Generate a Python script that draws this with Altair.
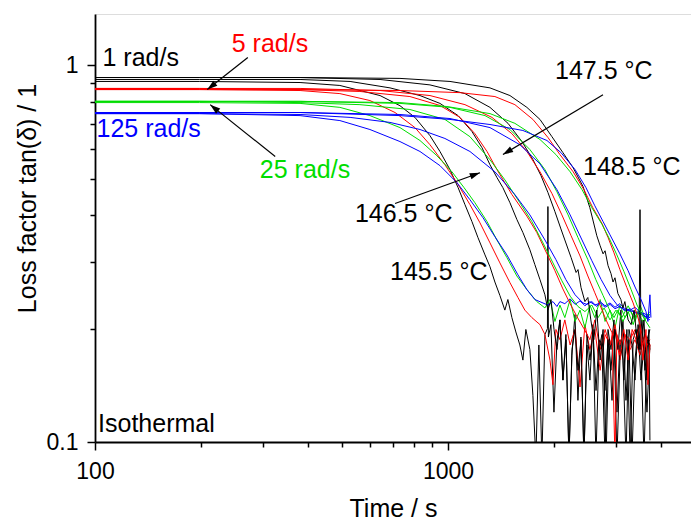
import altair as alt
import pandas as pd

# ---------------- data (time in s, loss factor tan(delta)) ----------------
x_ticks = [100, 200, 300, 400, 500, 600, 700, 800, 900, 1000, 2000, 3000, 4000]
y_ticks = [0.1, 0.2, 0.3, 0.4, 0.5, 0.6, 0.7, 0.8, 0.9, 1.0]

# 145.5 °C
t_1455_1 = [100,198,381,494,642,731,806,889,949,1013,1068,1117,1169,1216,1273,1315,1358,1403,1449,1478,1517,1557,1598,1630,1662,1706,1740,1774,1809,1845,1882,1913,1919,1925,1957,1996,2035,2075,2116,2158,2201,2244,2289,2334,2380,2427,2475,2524,2574,2625,2677,2730,2784,2839,2895,2952,3010,3070,3131,3193,3256,3320,3386,3453,3521,3591,3662,3733]
v_1455_1 = [0.907,0.907,0.901,0.885,0.832,0.782,0.728,0.651,0.591,0.529,0.474,0.427,0.385,0.349,0.314,0.292,0.266,0.245,0.224,0.239,0.214,0.196,0.181,0.165,0.199,0.176,0.133,0.09,0.181,0.09,0.193,0.20,0.422,0.19,0.205,0.12,0.185,0.211,0.146,0.193,0.09,0.17,0.218,0.129,0.19,0.09,0.181,0.146,0.205,0.09,0.176,0.193,0.137,0.187,0.155,0.199,0.09,0.165,0.211,0.129,0.187,0.09,0.165,0.199,0.146,0.181,0.12,0.181]
t_1455_5 = [100,198,381,494,601,708,806,889,980,1068,1154,1232,1315,1403,1498,1578,1651,1728,1822,1882,1945,1983,2022,2075,2143,2218,2291,2366,2443,2523,2606,2698,2786,2877,2972,3069,3170,3281,3388,3499,3614,3733]
v_1455_5 = [0.863,0.863,0.858,0.842,0.807,0.750,0.684,0.616,0.545,0.483,0.427,0.382,0.338,0.299,0.265,0.242,0.224,0.214,0.205,0.193,0.165,0.142,0.199,0.187,0.211,0.181,0.199,0.14,0.205,0.176,0.199,0.155,0.193,0.181,0.199,0.165,0.193,0.176,0.187,0.170,0.193,0.181]
t_1455_25 = [100,198,381,494,601,731,833,930,1026,1110,1192,1290,1376,1468,1567,1673,1785,1882,1945,2009,2075,2143,2218,2291,2366,2443,2523,2606,2698,2786,2877,2972,3069,3170,3281,3388,3499,3614,3733]
v_1455_25 = [0.797,0.797,0.793,0.774,0.736,0.684,0.632,0.576,0.522,0.474,0.432,0.385,0.344,0.309,0.276,0.254,0.236,0.227,0.239,0.209,0.231,0.214,0.239,0.209,0.224,0.201,0.231,0.214,0.239,0.209,0.224,0.201,0.231,0.214,0.224,0.209,0.231,0.214,0.222]
t_1455_125 = [100,198,381,494,601,731,833,949,1061,1154,1257,1358,1468,1578,1673,1762,1919,1983,2035,2075,2143,2218,2291,2366,2443,2523,2606,2698,2786,2877,2972,3069,3170,3281,3388,3499,3614,3733]
v_1455_125 = [0.745,0.745,0.736,0.714,0.676,0.628,0.591,0.542,0.488,0.440,0.394,0.351,0.314,0.278,0.254,0.239,0.231,0.236,0.229,0.236,0.233,0.240,0.232,0.237,0.230,0.236,0.231,0.234,0.228,0.232,0.226,0.229,0.223,0.226,0.220,0.222,0.216,0.214]

# 146.5 °C
t_1465_1 = [100,198,381,528,685,833,949,1068,1169,1248,1315,1376,1430,1498,1567,1630,1706,1762,1822,1882,1919,1958,1997,2036,2076,2117,2159,2202,2245,2290,2335,2381,2428,2476,2525,2575,2626,2678,2731,2785,2840,2896,2953,3011,3071,3132,3194,3257,3321,3387,3454,3522,3592,3663,3733]
v_1465_1 = [0.918,0.918,0.918,0.907,0.872,0.832,0.793,0.736,0.668,0.605,0.545,0.504,0.474,0.432,0.390,0.360,0.324,0.296,0.270,0.246,0.224,0.239,0.199,0.176,0.211,0.146,0.187,0.09,0.176,0.199,0.155,0.187,0.09,0.193,0.165,0.199,0.137,0.187,0.176,0.09,0.199,0.176,0.211,0.12,0.187,0.165,0.09,0.199,0.181,0.146,0.205,0.176,0.09,0.187,0.199]
t_1465_5 = [100,198,381,563,780,949,1081,1192,1290,1376,1518,1673,1785,1907,2009,2116,2218,2321,2427,2523,2606,2698,2786,2877,2972,3069,3170,3281,3388,3499,3614,3733]
v_1465_5 = [0.869,0.869,0.863,0.853,0.827,0.783,0.728,0.659,0.591,0.529,0.454,0.398,0.360,0.316,0.285,0.255,0.233,0.215,0.200,0.187,0.211,0.176,0.199,0.181,0.205,0.170,0.193,0.187,0.199,0.176,0.193,0.181]
t_1465_25 = [100,198,381,563,780,980,1154,1315,1449,1598,1728,1858,1983,2102,2218,2335,2443,2556,2663,2768,2877,2991,3109,3238,3367,3499,3614,3733]
v_1465_25 = [0.803,0.803,0.797,0.787,0.764,0.719,0.647,0.562,0.497,0.432,0.385,0.338,0.299,0.268,0.244,0.229,0.222,0.231,0.214,0.227,0.211,0.224,0.214,0.230,0.214,0.224,0.211,0.219]
t_1465_125 = [100,198,381,528,685,833,980,1154,1358,1547,1706,1882,2022,2157,2291,2413,2475,2556,2640,2698,2786,2877,2972,3069,3170,3281,3388,3499,3614,3733]
v_1465_125 = [0.745,0.745,0.741,0.728,0.706,0.676,0.640,0.591,0.522,0.454,0.401,0.344,0.305,0.270,0.246,0.234,0.232,0.236,0.229,0.236,0.230,0.234,0.228,0.233,0.226,0.224,0.228,0.221,0.219,0.214]

# 147.5 °C
t_1475_1 = [100,198,381,642,889,1117,1315,1479,1620,1741,1834,1919,2009,2089,2143,2232,2306,2335,2382,2443,2490,2539,2589,2640,2698,2750,2804,2858,2915,2972,3029,3089,3149,3212,3281,3346,3410,3476,3545,3614,3685,3733]
v_1475_1 = [0.929,0.929,0.929,0.918,0.888,0.842,0.774,0.702,0.628,0.562,0.510,0.460,0.409,0.368,0.344,0.309,0.282,0.287,0.257,0.236,0.242,0.211,0.187,0.224,0.165,0.199,0.09,0.187,0.129,0.199,0.176,0.224,0.146,0.199,0.09,0.187,0.199,0.176,0.211,0.155,0.187,0.176]
t_1475_5 = [100,198,381,642,889,1117,1332,1517,1673,1822,1970,2102,2232,2366,2490,2606,2716,2804,2915,2972,3009,3069,3149,3238,3324,3410,3499,3614,3733]
v_1475_5 = [0.869,0.869,0.869,0.858,0.832,0.787,0.728,0.659,0.591,0.522,0.457,0.401,0.353,0.312,0.276,0.249,0.227,0.211,0.195,0.09,0.193,0.181,0.199,0.165,0.199,0.187,0.205,0.176,0.187]
t_1475_25 = [100,198,381,731,1013,1273,1498,1706,1882,2035,2189,2335,2490,2623,2750,2858,2953,3029,3129,3238,3346,3431,3567,3733]
v_1475_25 = [0.803,0.803,0.803,0.793,0.774,0.736,0.676,0.598,0.529,0.462,0.401,0.349,0.305,0.270,0.245,0.226,0.214,0.224,0.209,0.222,0.205,0.222,0.209,0.218]
t_1475_125 = [100,198,381,731,1013,1315,1598,1822,2035,2218,2397,2556,2716,2877,3029,3191,3367,3545,3733]
v_1475_125 = [0.750,0.750,0.750,0.741,0.723,0.684,0.616,0.548,0.468,0.401,0.344,0.303,0.270,0.245,0.230,0.224,0.222,0.218,0.211]

# 148.5 °C
t_1485_1 = [100,198,381,731,1013,1315,1498,1673,1822,1970,2116,2262,2413,2523,2640,2698,2750,2786,2841,2896,2934,2972,3029,3089,3129,3170,3238,3302,3367,3432,3476,3499,3522,3591,3661,3709,3733]
v_1485_1 = [0.929,0.929,0.929,0.924,0.907,0.872,0.832,0.774,0.719,0.647,0.587,0.535,0.477,0.419,0.353,0.332,0.316,0.322,0.294,0.280,0.266,0.273,0.248,0.239,0.227,0.236,0.211,0.205,0.224,0.187,0.176,0.414,0.176,0.211,0.146,0.199,0.101]
t_1485_5 = [100,198,381,731,1081,1358,1547,1740,1919,2075,2262,2427,2572,2733,2841,2953,3069,3212,3346,3432,3499,3567,3638,3685,3733]
v_1485_5 = [0.863,0.863,0.863,0.858,0.847,0.827,0.787,0.719,0.644,0.580,0.522,0.468,0.419,0.380,0.349,0.318,0.287,0.257,0.234,0.218,0.205,0.165,0.199,0.142,0.181]
t_1485_25 = [100,198,381,731,993,1315,1547,1822,2022,2218,2397,2556,2733,2877,3009,3149,3302,3432,3545,3638,3733]
v_1485_25 = [0.803,0.803,0.803,0.797,0.778,0.745,0.702,0.636,0.580,0.522,0.468,0.419,0.378,0.344,0.314,0.284,0.254,0.231,0.218,0.209,0.201]
t_1485_125 = [100,198,381,731,1013,1315,1630,1907,2089,2291,2459,2606,2750,2877,3069,3238,3388,3522,3638,3685,3733,3757]
v_1485_125 = [0.750,0.750,0.750,0.736,0.719,0.697,0.672,0.632,0.587,0.529,0.474,0.424,0.385,0.355,0.316,0.285,0.258,0.239,0.222,0.209,0.246,0.214]

freqs = ["1 rad/s", "5 rad/s", "25 rad/s", "125 rad/s"]
freq_colors = ["#000000", "#ff0000", "#00dd00", "#0000ff"]

series = [
    ("145.5", "1 rad/s", t_1455_1, v_1455_1), ("145.5", "5 rad/s", t_1455_5, v_1455_5),
    ("145.5", "25 rad/s", t_1455_25, v_1455_25), ("145.5", "125 rad/s", t_1455_125, v_1455_125),
    ("146.5", "1 rad/s", t_1465_1, v_1465_1), ("146.5", "5 rad/s", t_1465_5, v_1465_5),
    ("146.5", "25 rad/s", t_1465_25, v_1465_25), ("146.5", "125 rad/s", t_1465_125, v_1465_125),
    ("147.5", "1 rad/s", t_1475_1, v_1475_1), ("147.5", "5 rad/s", t_1475_5, v_1475_5),
    ("147.5", "25 rad/s", t_1475_25, v_1475_25), ("147.5", "125 rad/s", t_1475_125, v_1475_125),
    ("148.5", "1 rad/s", t_1485_1, v_1485_1), ("148.5", "5 rad/s", t_1485_5, v_1485_5),
    ("148.5", "25 rad/s", t_1485_25, v_1485_25), ("148.5", "125 rad/s", t_1485_125, v_1485_125),
]

# annotations
label_text = ["1 rad/s", "5 rad/s", "125 rad/s", "25 rad/s", "147.5 °C", "148.5 °C", "146.5 °C", "145.5 °C", "Isothermal"]
label_t = [105, 244, 101, 293, 2010, 2413, 545, 685, 102]
label_v = [0.994, 1.089, 0.647, 0.504, 0.918, 0.513, 0.385, 0.270, 0.1063]
label_color = ["#000000", "#ff0000", "#0000ff", "#00dd00", "#000000", "#000000", "#000000", "#000000", "#000000"]

arrow_t0 = [271, 324, 2749, 708]
arrow_v0 = [1.050, 0.573, 0.836, 0.430]
arrow_t1 = [208, 212, 1431, 1232]
arrow_v1 = [0.863, 0.787, 0.580, 0.519]
arrow_angle = [232, 309, 239, 70]

# ---------------- build tables ----------------
rows = []
for temp, fr, ts, vs in series:
    for i, (t, v) in enumerate(zip(ts, vs)):
        rows.append({"t": t, "v": v, "curve": temp + " " + fr, "freq": fr, "i": i})
df = pd.DataFrame(rows)

lab = pd.DataFrame({"t": label_t, "v": label_v, "txt": label_text, "col": label_color})
arr = pd.DataFrame({"t": arrow_t0, "v": arrow_v0, "t2": arrow_t1, "v2": arrow_v1, "ang": arrow_angle})

FONT = "Liberation Sans"

xscale = alt.Scale(type="log", domain=[100, 4880], nice=False)
yscale = alt.Scale(type="log", domain=[0.1, 1.37], nice=False)

xaxis = alt.Axis(
    title="Time / s", values=x_ticks,
    labelExpr="datum.value == 100 ? '100' : datum.value == 1000 ? '1000' : ''",
    labelOverlap=False, labelFlush=False, grid=False,
    tickSize={"condition": {"test": "datum.value == 100 || datum.value == 1000", "value": 8}, "value": 5},
    tickColor="black", tickWidth=1.5, domainColor="black", domainWidth=1.8,
    labelFont=FONT, labelFontSize=23, labelColor="black", labelPadding=10,
    titleFont=FONT, titleFontSize=25, titleFontWeight="normal", titleColor="black",
    titleY=74, titleBaseline="alphabetic",
)
yaxis = alt.Axis(
    title="Loss factor tan(δ) / 1", values=y_ticks,
    labelExpr="datum.value == 1 ? '1' : datum.value == 0.1 ? '0.1' : ''",
    labelOverlap=False, labelFlush=False, grid=False,
    tickSize={"condition": {"test": "datum.value == 1 || datum.value == 0.1", "value": 8}, "value": 5},
    tickColor="black", tickWidth=1.5, domainColor="black", domainWidth=1.8,
    labelFont=FONT, labelFontSize=23, labelColor="black", labelPadding=9,
    titleFont=FONT, titleFontSize=25, titleFontWeight="normal", titleColor="black",
    titleAngle=-90, titleX=-60, titleY=184, titleBaseline="alphabetic", titleAlign="center",
)

X = alt.X("t:Q", scale=xscale, axis=xaxis)
Y = alt.Y("v:Q", scale=yscale, axis=yaxis)

lines = alt.Chart(df).mark_line(strokeWidth=1, clip=True).encode(
    x=X, y=Y,
    color=alt.Color("freq:N", scale=alt.Scale(domain=freqs, range=freq_colors), legend=None),
    detail="curve:N",
    order="i:Q",
)

shafts = alt.Chart(arr).mark_rule(color="black", strokeWidth=1.2).encode(
    x=X, y=Y, x2="t2:Q", y2="v2:Q"
)

heads = alt.Chart(arr).mark_point(
    shape="M0,0 L0.32,1 L-0.32,1 Z", filled=True, color="black", size=420, opacity=1, strokeWidth=0
).encode(
    x=alt.X("t2:Q", scale=xscale, axis=xaxis),
    y=alt.Y("v2:Q", scale=yscale, axis=yaxis),
    angle=alt.Angle("ang:Q", scale=None),
)

texts = alt.Chart(lab).mark_text(align="left", baseline="alphabetic", font=FONT, fontSize=25).encode(
    x=X, y=Y, text="txt:N", color=alt.Color("col:N", scale=None)
)

chart = alt.layer(lines, shafts, heads, texts).properties(
    width=596, height=428,
    autosize=alt.AutoSizeParams(type="none"),
    padding={"left": 95, "top": 14, "right": 0, "bottom": 78},
).configure_view(stroke=None).configure(background="white")

chart.save("out.html", embed_options={"renderer": "svg", "actions": False})
